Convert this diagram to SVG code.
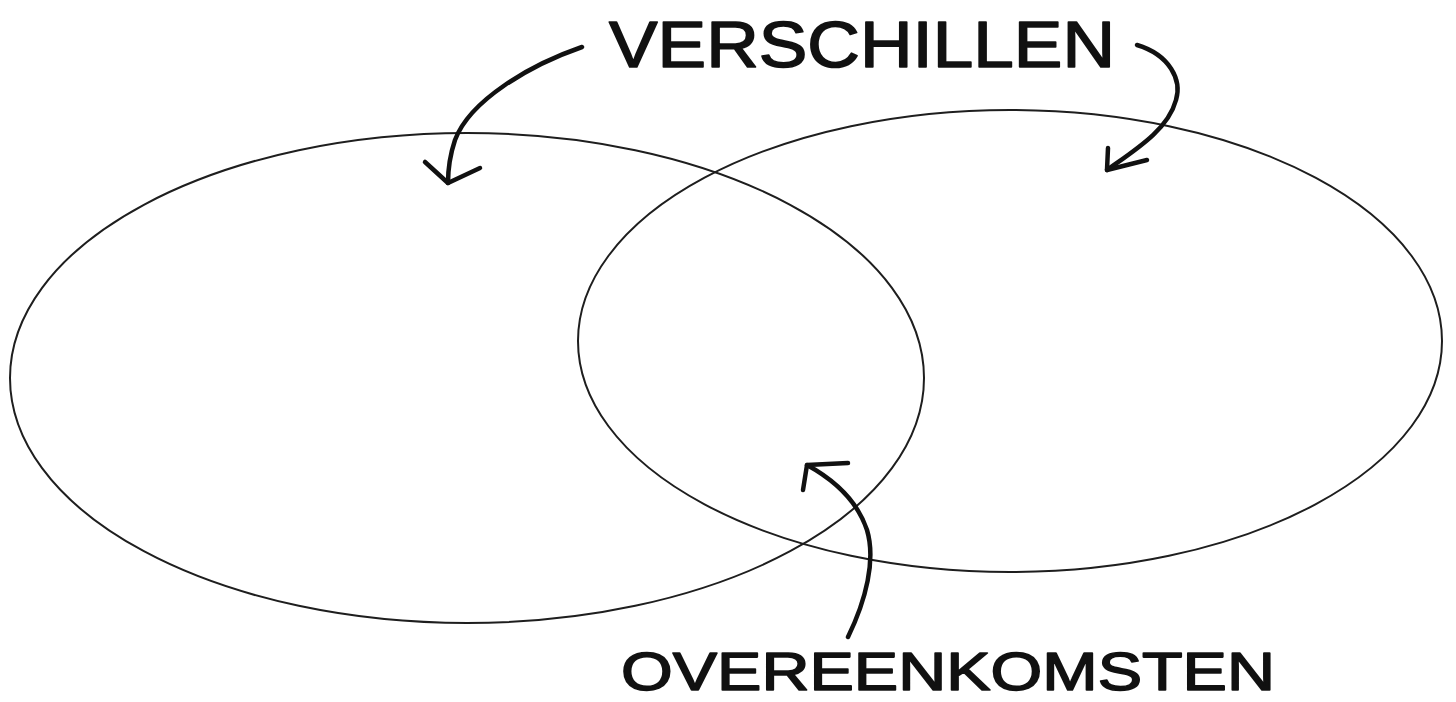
<svg xmlns="http://www.w3.org/2000/svg" width="1456" height="702" viewBox="0 0 1456 702">
<style>
.set{fill:none;stroke:#1e1e1e;stroke-width:2}
.arr{fill:none;stroke:#111;stroke-width:4.5;stroke-linecap:round;stroke-linejoin:round}
.lbl{font-family:"Liberation Sans",Arial,sans-serif;fill:#111;stroke:#111;stroke-width:1.6;stroke-linejoin:round}
</style>
<rect width="1456" height="702" fill="#fff"/>
<g id="set-left"><ellipse class="set" cx="467" cy="378" rx="457" ry="245"/></g>
<g id="set-right"><ellipse class="set" cx="1010" cy="341" rx="432" ry="231"/></g>
<g id="label-verschillen"><text class="lbl" x="609" y="67" font-size="65" textLength="506" lengthAdjust="spacingAndGlyphs">VERSCHILLEN</text></g>
<g id="label-overeenkomsten"><text class="lbl" x="621" y="690" font-size="54" textLength="654" lengthAdjust="spacingAndGlyphs">OVEREENKOMSTEN</text></g>
<g id="connectors">
<path class="arr" d="M582,47 C530,65 470,100 455,140 C449,158 448,172 448,183"/>
<path class="arr" d="M425,162 L448,183 L480,168"/>
<path class="arr" d="M1137,45 C1170,55 1182,80 1176,100 C1168,130 1135,150 1107,170"/>
<path class="arr" d="M1108,148 L1107,170 L1147,160"/>
<path class="arr" d="M848,637 C866,600 876,560 867,530 C858,503 838,482 807,465"/>
<path class="arr" d="M803,490 L807,465 L848,463"/>
</g>
</svg>
